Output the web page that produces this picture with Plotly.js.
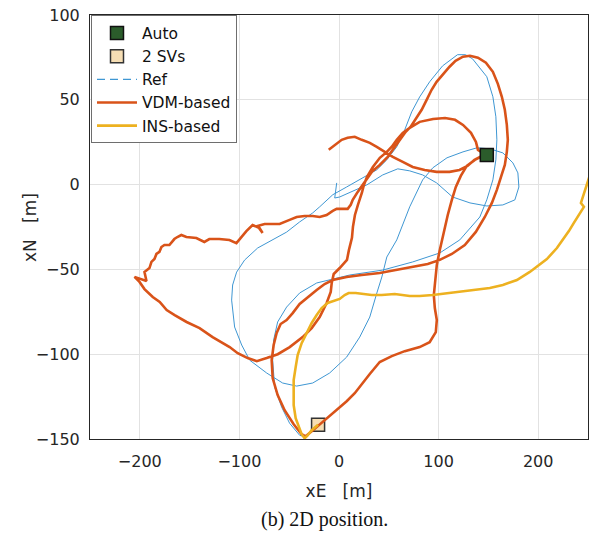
<!DOCTYPE html>
<html>
<head>
<meta charset="utf-8">
<script src="https://cdn.plot.ly/plotly-3.0.1.min.js"></script>
<style>html,body{margin:0;padding:0;background:#fff;}#chart{width:594px;height:536px;}</style>
</head>
<body>
<div id="chart"></div>
<script>
// ---- Data (metres) ----
const autoPoint = {x: [148.4], y: [17.5]};
const svPoint = {x: [-21], y: [-141.6]};

const refX = [-2.3,-4.3,0.7,10.8,27.8,43.9,59,71,84,98,
114,131.5,148.4,164.5,176.6,180.6,179.6,174.6,164.5,151.5,
138.5,124.5,108.4,94.2,84,71,58,48,43,38,
30.9,20.8,7.7,-9.4,-26.4,-42.5,-56.6,-72.6,-89.7,-97.7,
-104.8,-107.8,-106.8,-102.8,-94.8,-81.7,-66.7,-52.6,-39.5,-26.4,
-19.4,-6.3,7.7,23.8,37.9,48,58,66,73,81,
91,104,119,127,134,148.4,154.5,157.5,158.5,157.5,
154.5,148.4,141.4,121.3,101.2,74,43.9,10.8,-6.3,-22.4,
-39.5,-52.6,-61.6,-65.6,-66.6,-64.6,-57.6,-49.6,-39.5,-33.5,
-27.4,-20.4,-11.4,-1.3,7.7,15.8,22.8,30.9,40.9,53,
66,81,91,97.2,98.2,96.2,95.2,96.2,98.2,101.2,
105.2,109.2,113.3,117.3,122.3,128.3,136.4,146.4];
const refY = [1,-7.9,-7.3,-4.8,-0.2,5.7,9.3,8.1,5.7,1,
-7.3,-10.8,-12.6,-12,-9,-1.4,6.9,12.8,18.7,21.1,
21.7,19.3,15.8,9.9,2.8,-13.1,-32.6,-42.7,-54.5,-63.9,
-78.1,-89.9,-101.7,-111.1,-117,-118.8,-117,-111.1,-103.5,-94.6,
-84,-68.1,-59.2,-51.6,-44.5,-37.4,-32.7,-28,-22,-16.7,
-13.1,-6,-1.4,3.9,8.7,14.6,22.3,32.3,42.9,51.7,
60.6,70,76.6,76.6,74.2,63.6,51.8,40,26.4,14.6,
2.8,-9,-19.1,-32.6,-40.3,-45.6,-50.4,-53.3,-55.7,-58,
-63.9,-72.2,-81,-91.6,-103.5,-119.4,-131.2,-140.7,-147.8,-148.9,
-145.5,-141.9,-137.1,-132.4,-127.7,-123,-117.6,-111.7,-104.6,-101.1,
-98.2,-95.8,-92.9,-87,-79.9,-72.8,-65.2,-57.4,-47.4,-38.5,
-27.9,-17.9,-9,-1.4,5.1,11,14.6,17.5];

const vdmX = [-10.3,-4.3,2.7,8.7,15.8,22.8,30.9,37.9,46,54,
64,74,86,98,111,121,129,136,142,147.5,
139.5,137.5,132.5,124.5,116.5,106.5,94.5,81,71,64,
58,53,48,41,34,28,25,23,19,16,
14,13,10,8,0.7,-5.3,-7.3,-8.3,-12.4,-19.4,
-27.4,-36.5,-49.5,-61.5,-72.6,-82.6,-91.7,-101.7,-109.8,-126.9,
-140,-153,-165,-173,-180,-187,-195.3,-200.3,-205.3,-193.3,
-195.3,-190.3,-188.3,-185.3,-183.3,-180.3,-178.3,-175.3,-170.3,-165.3,
-162.3,-158.3,-153.2,-143.2,-135.2,-130.2,-120.2,-110,-103,-99,
-93,-86.8,-79.8,-76.7,-81.8,-74.7,-59.6,-49.6,-42.5,-34.5,
-26.4,-19.4,-12.4,-6.3,-2.3,3.7,8.7,11.8,13.8,18.8,
22.8,26.8,32.9,40.9,48.9,54,59,62,67,72,
76,80,83,88,93,98,104,111,117,124.5,
131.5,139.5,147.5,154.5,159.5,163.5,166.5,168.5,169.5,168.5,
166.5,162.5,158.5,153.5,146.4,137.4,126.3,113.3,101.2,89.1,
74,56,40.9,22.8,7.7,-6.3,-14.4,-22.4,-31.5,-39.5,
-46.5,-52.6,-58.6,-62.6,-65.6,-67.6,-66.6,-61.6,-54.6,-45.5,
-37.5,-33.5,-27.4,-20.4,-11.4,-1.3,7.7,15.8,22.8,30.9,
40.9,53,66,81,91,97.2,98.2,96.2,95.2,96.2,
98.2,101.2,105.2,109.2,113.3,117.3,122.3,128.3,136.4,146.4];
const vdmY = [20.5,23.4,26.4,27.6,28.2,26.4,24.6,22.3,19.3,16.4,
13.4,10.4,8.6,7.5,7.5,8.6,11,14.6,16.4,17.5,
20.5,25.2,30.5,35.2,38.2,39.3,38.7,37,33.4,30.5,
26.4,22.3,19.3,15.8,10.4,4.5,-0.2,-4.8,-11.9,-17.9,
-24.9,-31.4,-38.5,-44.4,-49.2,-52.7,-58,-63.3,-69.8,-78.1,
-84.6,-89.9,-95.8,-100,-102.3,-104.1,-102.3,-99.4,-95.8,-89.9,
-84.6,-81,-76.9,-74,-69.2,-66.3,-61.6,-57.4,-54.4,-56.8,
-51.5,-49.2,-45.6,-43.9,-40.9,-39.7,-36.8,-35.6,-35.6,-32.1,
-30.9,-29.7,-30.9,-31.5,-33.8,-32.1,-32.1,-32.7,-34.5,-31.5,
-27.4,-23.8,-25.6,-28.5,-24.4,-23.2,-23.2,-20.8,-19.1,-18.5,
-18.5,-19.1,-17.9,-15.5,-14.3,-14.3,-14.3,-11.9,-9,-4.3,
-0.8,2.2,7.5,11.6,16.4,20.5,24.6,27.6,31.1,34.1,
37.6,41.1,44.1,50,55.9,60.6,64.8,69.5,73,75.4,
76,74.8,71.9,66.5,59.4,51.8,44.1,35.2,26.4,19.3,
11.6,3.9,-3.1,-10.8,-19.1,-27.9,-35.6,-40.9,-44.4,-46.8,
-48.5,-50.4,-52.1,-53.3,-54.5,-56.3,-58.6,-62.2,-66.3,-70.4,
-75.8,-79.9,-82.2,-87.5,-94.6,-103.5,-114.1,-124.1,-133,-141.3,
-147.2,-148.4,-145.5,-141.9,-137.1,-132.4,-127.7,-123,-117.6,-111.7,
-104.6,-101.1,-98.2,-95.8,-92.9,-87,-79.9,-72.8,-65.2,-57.4,
-47.4,-38.5,-27.9,-17.9,-9,-1.4,5.1,11,14.6,17.5];

const insX = [-21,-27.4,-31.5,-34.5,-37.5,-40.5,-43.5,-45.5,-45.5,-45.5,
-43.5,-41.5,-37.5,-32.5,-27.4,-22.4,-17.4,-11.4,-5.3,0.7,
5.7,9.7,16.8,22.8,32.9,42.9,56,71,81,94.2,
111.3,131.4,151.4,164.5,178.6,191.6,198.6,208.7,218.8,224.8,
230.8,235.8,241.9,245.9,242.9,244.9,247.9,249.9,252];
const insY = [-141.6,-144.8,-147.8,-149.6,-147.2,-143,-137.7,-130,-121.2,-115.3,
-107.6,-100.5,-93.5,-87.5,-81.6,-76.9,-72.8,-69.8,-68.6,-67.4,
-65.1,-63.9,-63.9,-64.5,-65.1,-65.1,-64.5,-65.7,-65.7,-65.1,
-63.9,-62.7,-61,-59.2,-56.3,-51.5,-48.5,-43.9,-37.4,-32.7,
-27.4,-22.6,-16.8,-13.1,-10.8,-7.3,-1.9,2.8,5.7];

const names = ['Auto', '2 SVs', 'Ref', 'VDM-based', 'INS-based'];
const colors = {ref: '#3f97d3', vdm: '#D95319', ins: '#EDB120', auto: '#2b5c2b', sv: '#f6deb4'};

const traces = [
  {x: refX, y: refY, mode: 'lines', line: {color: colors.ref, width: 1}, showlegend: false, hoverinfo: 'skip'},
  {x: [null], y: [null], mode: 'lines', name: names[2], legendrank: 3,
   line: {color: colors.ref, width: 1.2, dash: '8px,5px'}},
  {x: svPoint.x, y: svPoint.y, mode: 'markers', name: names[1], legendrank: 2,
   marker: {symbol: 'square', size: 13, color: colors.sv, line: {color: '#333', width: 1.5}}},
  {x: vdmX, y: vdmY, mode: 'lines', name: names[3], legendrank: 4,
   line: {color: colors.vdm, width: 2.6}},
  {x: insX, y: insY, mode: 'lines', name: names[4], legendrank: 5,
   line: {color: colors.ins, width: 2.6}},
  {x: autoPoint.x, y: autoPoint.y, mode: 'markers', name: names[0], legendrank: 1,
   marker: {symbol: 'square', size: 13, color: colors.auto, line: {color: '#111', width: 1.5}}}
];

const tickFont = {family: 'DejaVu Sans', size: 16, color: '#262626'};
const titleFont = {family: 'DejaVu Sans', size: 17, color: '#262626'};
const layout = {
  width: 594, height: 536,
  margin: {l: 90, r: 6, t: 15, b: 97},
  paper_bgcolor: '#fff', plot_bgcolor: '#fff',
  showlegend: true,
  xaxis: {
    range: [-250, 250], tick0: 0, dtick: 100, ticks: '',
    showgrid: true, gridcolor: '#e2e2e2', gridwidth: 1, zeroline: false,
    showline: true, linecolor: '#262626', linewidth: 1, mirror: true,
    tickfont: tickFont, ticklabelstandoff: 8,
    title: {text: 'xE\u00a0\u00a0\u00a0[m]', font: titleFont, standoff: 14}
  },
  yaxis: {
    range: [-150, 100], tick0: 0, dtick: 50, ticks: '',
    showgrid: true, gridcolor: '#e2e2e2', gridwidth: 1, zeroline: false,
    showline: true, linecolor: '#262626', linewidth: 1, mirror: true,
    tickfont: tickFont, ticklabelstandoff: 6
  },
  legend: {
    x: 0.002, y: 0.999, xanchor: 'left', yanchor: 'top',
    bgcolor: '#fff', bordercolor: '#6e6e6e', borderwidth: 1,
    font: {family: 'DejaVu Sans', size: 15.5, color: '#111'},
    itemwidth: 40, traceorder: 'normal'
  },
  annotations: [
    {text: 'xN\u00a0\u00a0\u00a0[m]', xref: 'paper', yref: 'paper', x: -0.1205, y: 0.5,
     xanchor: 'center', yanchor: 'middle', textangle: -90, showarrow: false, font: titleFont},
    {text: '(b) 2D position.', xref: 'paper', yref: 'paper',
     x: 0.47, y: -0.19, xanchor: 'center', yanchor: 'middle', showarrow: false,
     font: {family: 'Liberation Serif', size: 20, color: '#111'}}
  ]
};

Plotly.newPlot('chart', traces, layout, {staticPlot: true, displayModeBar: false});
</script>
</body>
</html>
